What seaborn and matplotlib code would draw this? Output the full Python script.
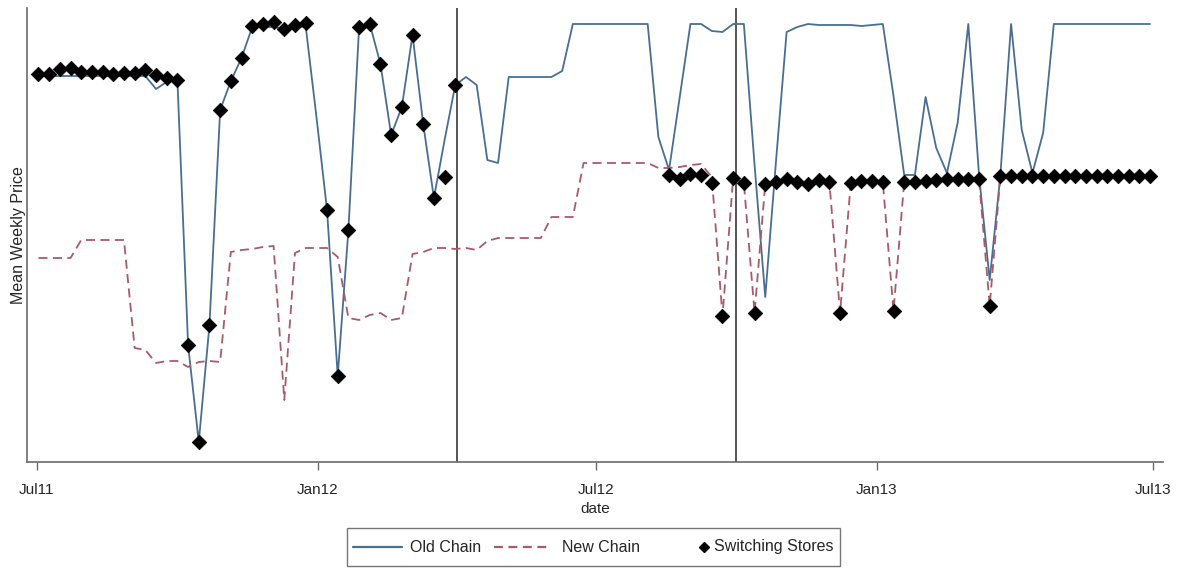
import numpy as np
import pandas as pd
import matplotlib
matplotlib.use("Agg")
import matplotlib.pyplot as plt
from matplotlib.lines import Line2D
from matplotlib.patches import Rectangle
import seaborn as sns

nan = np.nan

# Weekly observations, July 2011 - June 2013
weeks = pd.date_range("2011-07-02", periods=105, freq="7D")

old_chain = [
    3.386, 3.386, 3.386, 3.386, 3.386, 3.386, 3.386, 3.386, 3.386, 3.386, 3.386,
    3.373, 3.380, 3.382,
    3.117, 3.020, 3.137, 3.352, 3.381, 3.404,
    3.435, 3.435, 3.435, 3.433, 3.434, 3.436,
    3.346, 3.252, 3.086, 3.232, 3.435, 3.438, 3.398, 3.327, 3.355, 3.427,
    3.338, 3.264, 3.322, 3.377,
    3.385, 3.377, 3.302, 3.299, 3.385, 3.385, 3.385, 3.385, 3.385, 3.391,
    3.438, 3.438, 3.438, 3.438, 3.438, 3.438, 3.438, 3.438,
    3.325, 3.292, 3.365, 3.438, 3.438, 3.431, 3.430, 3.438, 3.438, 3.297,
    3.165, 3.300, 3.430, 3.435, 3.438,
    3.437, 3.437, 3.437, 3.437, 3.436, 3.437, 3.438,
    3.366, 3.287, 3.287, 3.365, 3.314, 3.289, 3.339, 3.438, 3.287, 3.182,
    3.287, 3.438, 3.332, 3.289, 3.329,
    3.438, 3.438, 3.438, 3.438, 3.438, 3.438, 3.438, 3.438, 3.438, 3.438,
]

new_chain = [
    3.204, 3.204, 3.204, 3.204,
    3.222, 3.222, 3.222, 3.222, 3.222,
    3.114, 3.112, 3.099, 3.101, 3.101, 3.095, 3.100, 3.101, 3.100,
    3.210, 3.212, 3.213, 3.215, 3.216, 3.062, 3.209, 3.214, 3.214, 3.214, 3.205,
    3.144, 3.142, 3.147, 3.149, 3.142, 3.144, 3.208, 3.210, 3.214, 3.214,
    3.213, 3.214, 3.212,
    3.221, 3.224, 3.224, 3.224, 3.224, 3.224, 3.245, 3.245, 3.245,
    3.299, 3.299, 3.299, 3.299, 3.299, 3.299, 3.299,
    3.294, 3.294, 3.295, 3.297, 3.298, 3.285,
    3.146, 3.284, 3.279, 3.149, 3.278, 3.280, 3.283, 3.280, 3.278,
    3.282, 3.280, 3.149, 3.279, 3.281, 3.281, 3.280, 3.151, 3.280, 3.280,
    3.281, 3.282, 3.283, 3.283, 3.283, 3.283, 3.156, 3.286,
    3.286, 3.286, 3.286, 3.286, 3.286, 3.286, 3.286, 3.286, 3.286, 3.286,
    3.286, 3.286, 3.286, 3.286,
]

switching = [
    3.388, 3.388, 3.393, 3.394, 3.390, 3.390, 3.390, 3.388, 3.389, 3.389,
    3.392, 3.387, 3.384, 3.382,
    3.117, 3.020, 3.137, 3.352, 3.381, 3.404, 3.436, 3.438, 3.440, 3.433,
    3.437, 3.439,
    nan,
    3.252, 3.086, 3.232, 3.435, 3.438, 3.398, 3.327, 3.355, 3.427, 3.338,
    3.264, 3.285, 3.377,
    nan, nan, nan, nan, nan, nan, nan, nan, nan, nan,
    nan, nan, nan, nan, nan, nan, nan, nan, nan,
    3.287, 3.283, 3.288, 3.287, 3.279, 3.146, 3.284, 3.279, 3.149, 3.278,
    3.280, 3.283, 3.280, 3.278,
    3.282, 3.280, 3.149, 3.279, 3.281, 3.281, 3.280, 3.151, 3.280, 3.280,
    3.281, 3.282, 3.283, 3.283, 3.283, 3.283, 3.156, 3.286,
    3.286, 3.286, 3.286, 3.286, 3.286, 3.286, 3.286, 3.286, 3.286, 3.286,
    3.286, 3.286, 3.286, 3.286,
]

tick_dates = ["2011-07-01", "2012-01-01", "2012-07-01", "2013-01-01", "2013-07-01"]
tick_labels = ["Jul11", "Jan12", "Jul12", "Jan13", "Jul13"]
event_dates = ["2012-04-01", "2012-10-01"]
legend_labels = ["Old Chain", "New Chain", "Switching Stores"]

df = pd.DataFrame({"date": weeks, "old": old_chain, "new": new_chain, "switch": switching})

sns.set_style("white")
plt.rcParams["font.family"] = ["Liberation Sans", "DejaVu Sans"]

old_color = "#4a6e93"
new_color = "#a85a6a"
axis_color = "#6b6b6b"
new_dash = (0, (5, 3))

W, H = 1178, 571
fig = plt.figure(figsize=(W / 100, H / 100), dpi=100)
ax = fig.add_axes([27 / W, 1 - 462 / H, (1163 - 27) / W, (462 - 8) / H])

sns.lineplot(data=df, x="date", y="old", ax=ax, color=old_color, linewidth=1.3, zorder=2)
sns.lineplot(data=df, x="date", y="new", ax=ax, color=new_color, linewidth=1.3,
             linestyle=new_dash, zorder=2)
sns.scatterplot(data=df, x="date", y="switch", ax=ax, color="black", marker="D", s=55,
                edgecolor="black", linewidth=0.5, zorder=3)

for d in event_dates:
    ax.axvline(pd.Timestamp(d), color="#555555", linewidth=1.4, zorder=1)

ax.set_xlim(pd.Timestamp("2011-06-24 12:00"), pd.Timestamp("2013-07-07 12:00"))
ax.set_ylim(3.000, 3.454)

ax.set_xticks([pd.Timestamp(t) for t in tick_dates])
ax.set_xticklabels(tick_labels, fontsize=11)
ax.set_yticks([])
ax.tick_params(axis="x", bottom=True, length=6, width=1, color=axis_color, pad=9)

for side in ["top", "right"]:
    ax.spines[side].set_visible(False)
for side in ["left", "bottom"]:
    ax.spines[side].set_color(axis_color)
    ax.spines[side].set_linewidth(1.2)

ax.set_xlabel("date", fontsize=11, labelpad=4)
ax.set_ylabel("Mean Weekly Price", fontsize=11.5, labelpad=1)


# Legend key laid out in pixel positions below the axis
def fx(x):
    return x / W


def fy(y):
    return 1 - y / H


ly = 547
fig.add_artist(Rectangle((fx(347), fy(566)), fx(840) - fx(347), fy(528) - fy(566),
                         transform=fig.transFigure, facecolor="white",
                         edgecolor="#777777", linewidth=1.0))
fig.add_artist(Line2D([fx(353), fx(402)], [fy(ly), fy(ly)], transform=fig.transFigure,
                      color=old_color, linewidth=1.6))
fig.add_artist(Line2D([fx(494), fx(550)], [fy(ly), fy(ly)], transform=fig.transFigure,
                      color=new_color, linewidth=1.6, linestyle=(0, (4, 2.5))))
fig.add_artist(Line2D([fx(704)], [fy(ly)], transform=fig.transFigure, color="black",
                      marker="D", markersize=5.5, linestyle="none"))
for x0, lab in zip([410, 562, 714], legend_labels):
    fig.text(fx(x0), fy(ly), lab, fontsize=11.5, ha="left", va="center")

fig.savefig("out.png", dpi=100)
